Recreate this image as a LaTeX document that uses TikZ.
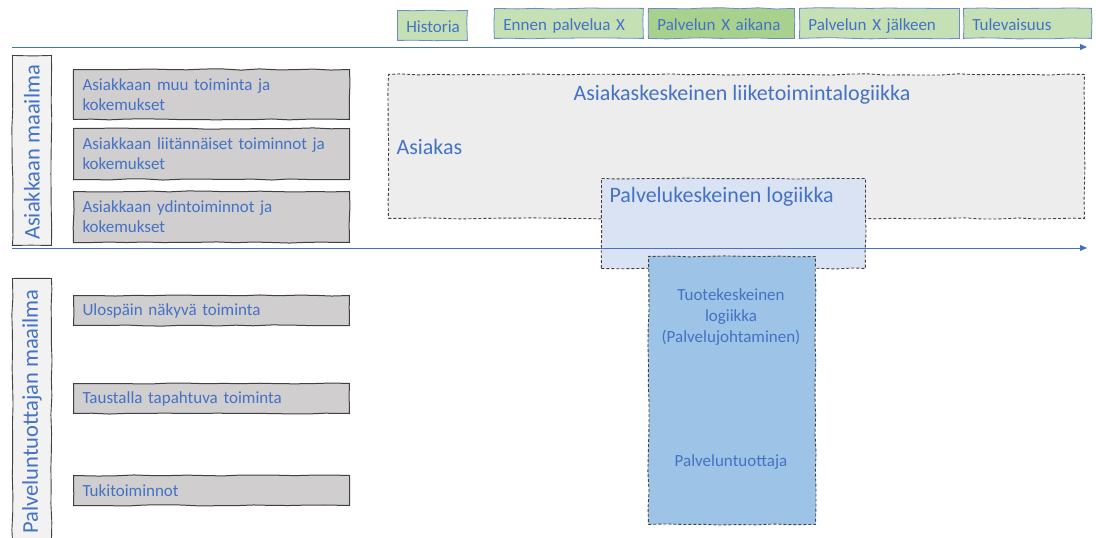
\documentclass[tikz,border=0pt]{standalone}
\usepackage{fontspec}
\setmainfont{Carlito}
\usetikzlibrary{arrows.meta,decorations.pathmorphing}
\definecolor{txtblue}{HTML}{4472C4}
\definecolor{hdrfill}{HTML}{C5E0B4}
\definecolor{hdrdark}{HTML}{A9D18E}
\definecolor{hdrline}{HTML}{6A8CC8}
\definecolor{greyfill}{HTML}{D0CECE}
\definecolor{panelfill}{HTML}{EDEDED}
\definecolor{labelfill}{HTML}{F2F2F2}
\definecolor{servfill}{HTML}{DAE3F3}
\definecolor{prodfill}{HTML}{9DC3E6}
\definecolor{edge}{HTML}{404040}
\begin{document}
\pgfmathsetseed{7}
\begin{tikzpicture}[x=1pt,y=-1pt,
  sketch/.style={decorate,decoration={random steps,segment length=18pt,amplitude=0.6pt}},
  hdrbox/.style={sketch,draw=hdrline,line width=0.8pt,fill=hdrfill,text=txtblue,
    font=\fontsize{17}{20}\selectfont,inner xsep=9pt,inner ysep=0pt,align=left,anchor=north west,
    minimum height=30pt,text height=15pt,text depth=1pt},
  actbox/.style={sketch,draw=edge,line width=1pt,fill=greyfill,text=txtblue,
    font=\fontsize{17}{20}\selectfont,inner xsep=9pt,inner ysep=0pt,align=left,anchor=north west,text width=258pt},
  sidebox/.style={sketch,draw=edge,line width=0.9pt,fill=labelfill,anchor=north west,minimum width=39pt},
  sidetext/.style={text=txtblue,font=\fontsize{22.5}{26}\selectfont,rotate=90},
  zone/.style={sketch,draw=edge,dash pattern=on 3pt off 2pt,line width=0.9pt,anchor=north west},
  bigtext/.style={text=txtblue,font=\fontsize{22}{25}\selectfont},
  midtext/.style={text=txtblue,font=\fontsize{17}{21}\selectfont,align=center},
  timeline/.style={draw=txtblue,line width=0.9pt,-{Triangle[length=7pt,width=6pt]}}
]
\useasboundingbox (0,0) rectangle (1096,538);

% period headers
\node[hdrbox,text width=52pt] (hist) at (397,10) {Historia};
\node[hdrbox,text width=131pt] (before) at (494,8) {Ennen palvelua X};
\node[hdrbox,text width=128pt,fill=hdrdark] (during) at (648,8) {Palvelun X aikana};
\node[hdrbox,text width=142pt] (after) at (799,8) {Palvelun X jälkeen};
\node[hdrbox,text width=110pt] (future) at (963,8) {Tulevaisuus};

% upper time axis
\coordinate (axA0) at (12,47);
\coordinate (axA1) at (1087,47);
\draw[timeline] (axA0) -- (axA1);

% side labels
\node[sidebox,minimum height=190pt] (custworld) at (12,55) {};
\node[sidetext] (custlabel) at ([yshift=-2pt]custworld.center) {Asiakkaan maailma};
\node[sidebox,minimum height=262pt] (provworld) at (12,278) {};
\node[sidetext] (provlabel) at ([yshift=-2pt]provworld.center) {Palveluntuottajan maailma};

% customer activities
\node[actbox,minimum height=50pt] (c1) at (73,69) {Asiakkaan muu toiminta ja\\kokemukset};
\node[actbox,minimum height=51pt] (c2) at (73,128) {Asiakkaan liitännäiset toiminnot ja\\kokemukset};
\node[actbox,minimum height=51pt] (c3) at (73,191) {Asiakkaan ydintoiminnot ja\\kokemukset};

% provider activities
\node[actbox,minimum height=30pt] (p1) at (73,295) {Ulospäin näkyvä toiminta};
\node[actbox,minimum height=30pt] (p2) at (73,383) {Taustalla tapahtuva toiminta};
\node[actbox,minimum height=30pt] (p3) at (73,475) {Tukitoiminnot};

% logic zones
\node[zone,fill=panelfill,minimum width=696pt,minimum height=144pt] (cust) at (388,74) {};
\node[bigtext] (custtitle) at (742,95) {Asiakaskeskeinen liiketoimintalogiikka};
\node[bigtext,anchor=west] (custname) at (393,147) {Asiakas};

\node[zone,fill=servfill,minimum width=264pt,minimum height=90pt] (serv) at (601,178) {};
\node[bigtext,anchor=west] (servtitle) at (606,197) {Palvelukeskeinen logiikka};

% lower time axis
\coordinate (axB0) at (12,248);
\coordinate (axB1) at (1087,248);
\draw[timeline] (axB0) -- (axB1);

\node[zone,fill=prodfill,minimum width=167pt,minimum height=268pt] (prod) at (648,256) {};
\node[midtext] (prodtitle) at (731,317) {Tuotekeskeinen\\logiikka\\(Palvelujohtaminen)};
\node[midtext] (provname) at (731,462) {Palveluntuottaja};
\end{tikzpicture}
\end{document}
